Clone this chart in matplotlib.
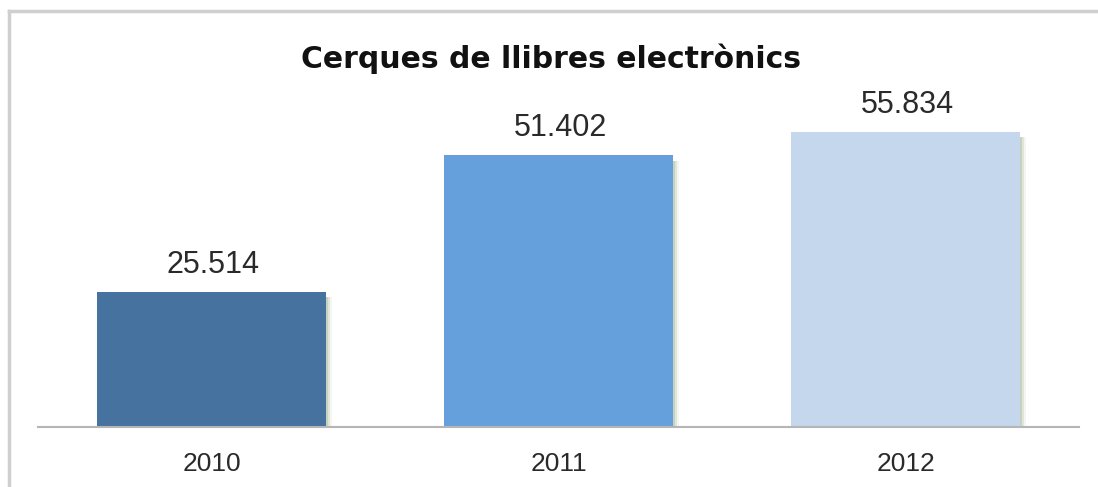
import numpy as np
import matplotlib.pyplot as plt
from matplotlib.patches import Rectangle

# Data
years = ['2010', '2011', '2012']
searches = [25514, 51402, 55834]
labels = ['25.514', '51.402', '55.834']
colors = ['#4672a0', '#65a0dc', '#c5d7ec']

fig = plt.figure(figsize=(10.98, 4.87), dpi=100)
ax = fig.add_axes([38 / 1098, 1 - 427 / 487, 1041 / 1098, 317 / 487])

x = np.arange(len(years))
width = 0.66
px = 3 / 1041  # one pixel in x data units

# soft shadow on the right side of each bar
for xi, val in zip(x, searches):
    for k, a in enumerate([0.4, 0.25, 0.12]):
        ax.add_patch(Rectangle((xi - width / 2 + (2 + 2 * k) * px, 0), width, val - 1000,
                               color='#a7b596', alpha=a, lw=0, zorder=1))

ax.bar(x, searches, width=width, color=colors, zorder=2)

for xi, val, lab in zip(x, searches, labels):
    ax.text(xi + 1.5 * px, val + 2300, lab, ha='center', va='bottom', fontsize=22,
            family='Liberation Sans', color='#2a2a2a')

ax.set_xlim(-0.5, 2.5)
ax.set_ylim(0, 60000)
ax.set_xticks(x)
ax.set_xticklabels(years, fontsize=19, family='Liberation Sans', color='#2a2a2a')
ax.tick_params(axis='x', length=0, pad=18)
ax.set_yticks([])
for s in ['top', 'right', 'left']:
    ax.spines[s].set_visible(False)
ax.spines['bottom'].set_color('#b5b5b5')
ax.spines['bottom'].set_linewidth(1.5)

fig.text(551 / 1098, 1 - 59 / 487, 'Cerques de llibres electrònics', ha='center', va='center',
         fontsize=21.5, fontweight='bold', color='#111111')

# outer chart border (left and top visible)
fig.add_artist(plt.Line2D([9 / 1098, 9 / 1098], [0, 1 - 11 / 487], transform=fig.transFigure,
                          color='#cfcfcf', lw=2.5))
fig.add_artist(plt.Line2D([9 / 1098, 1], [1 - 11 / 487, 1 - 11 / 487], transform=fig.transFigure,
                          color='#cfcfcf', lw=2.5))

fig.savefig('out.png', dpi=100)
